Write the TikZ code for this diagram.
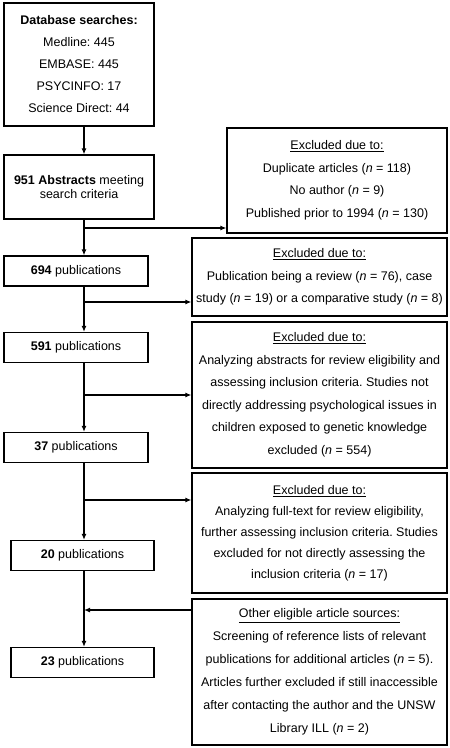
\documentclass[tikz,border=0pt]{standalone}
\usepackage{fontspec}
\setmainfont{Liberation Sans}
\usetikzlibrary{arrows.meta}
\frenchspacing
\newcommand{\nn}[1]{(\textit{n} = #1)}
\begin{document}
\begin{tikzpicture}[x=1pt, y=-1pt,
    box/.style={draw, line width=1.2pt, align=center, inner sep=1pt, font=\fontsize{12.5}{22.5}\selectfont},
    pubbox/.style={box, minimum width=144pt, minimum height=30pt},
    sidebox/.style={box, minimum width=255pt},
    arr/.style={line width=1.2pt, -{Latex[length=6pt,width=5pt]}}]
    \useasboundingbox (0,0) rectangle (450,748);

    % Main column
    \node[box, minimum width=150pt, minimum height=123pt, font=\fontsize{12.5}{22}\selectfont] (search) at (79,64.5)
        {\textbf{Database searches:}\\Medline: 445\\EMBASE: 445\\PSYCINFO: 17\\Science Direct: 44};
    \node[box, minimum width=150pt, minimum height=64pt, font=\fontsize{12.5}{14.5}\selectfont] (abstracts) at (79,187)
        {\textbf{951 Abstracts} meeting\\search criteria};
    \node[pubbox] (p694) at (76,271) {\textbf{694} publications};
    \node[pubbox] (p591) at (76,347.5) {\textbf{591} publications};
    \node[pubbox] (p37) at (76,447.5) {\textbf{37} publications};
    \node[pubbox, minimum width=143pt] (p20) at (82.5,555.5) {\textbf{20} publications};
    \node[pubbox, minimum width=143pt] (p23) at (82.5,662.5) {\textbf{23} publications};

    % Side boxes
    \node[box, minimum width=220pt, minimum height=105pt] (dup) at (337,180.5)
        {\underline{Excluded due to:}\\Duplicate articles \nn{118}\\No author \nn{9}\\Published prior to 1994 \nn{130}};
    \node[sidebox, minimum height=78pt] (review) at (319.5,277)
        {\underline{Excluded due to:}\\Publication being a review \nn{76}, case\\study \nn{19} or a comparative study \nn{8}};
    \node[sidebox, minimum height=146pt] (abscrit) at (319.5,395)
        {\underline{Excluded due to:}\\Analyzing abstracts for review eligibility and\\assessing inclusion criteria. Studies not\\directly addressing psychological issues in\\children exposed to genetic knowledge\\excluded \nn{554}};
    \node[sidebox, minimum height=120pt, font=\fontsize{12.5}{21}\selectfont] (fulltext) at (319.5,533)
        {\underline{Excluded due to:}\\Analyzing full-text for review eligibility,\\further assessing inclusion criteria. Studies\\excluded for not directly assessing the\\inclusion criteria \nn{17}};
    \node[sidebox, minimum height=146pt, font=\fontsize{12.5}{23}\selectfont] (other) at (319.5,672)
        {\underline{Other eligible article sources:}\\Screening of reference lists of relevant\\publications for additional articles \nn{5}.\\Articles further excluded if still inaccessible\\after contacting the author and the UNSW\\Library ILL \nn{2}};

    % Junctions on the main line
    \coordinate (j1) at (84,228);
    \coordinate (j2) at (84,302);
    \coordinate (j3) at (84,395);
    \coordinate (j4) at (84,500);
    \coordinate (j5) at (84,610);

    % Main line
    \draw[arr] (search.south -| j1) -- (abstracts.north -| j1);
    \draw[arr] (abstracts.south -| j1) -- (p694.north -| j1);
    \draw[arr] (p694.south -| j2) -- (p591.north -| j2);
    \draw[arr] (p591.south -| j3) -- (p37.north -| j3);
    \draw[arr] (p37.south -| j4) -- (p20.north -| j4);
    \draw[arr] (p20.south -| j5) -- (p23.north -| j5);

    % Branches
    \draw[arr] (j1) -- (j1 -| dup.west);
    \draw[arr] (j2) -- (j2 -| review.west);
    \draw[arr] (j3) -- (j3 -| abscrit.west);
    \draw[arr] (j4) -- (j4 -| fulltext.west);
    \draw[arr] (j5 -| other.west) -- (j5);
\end{tikzpicture}
\end{document}
